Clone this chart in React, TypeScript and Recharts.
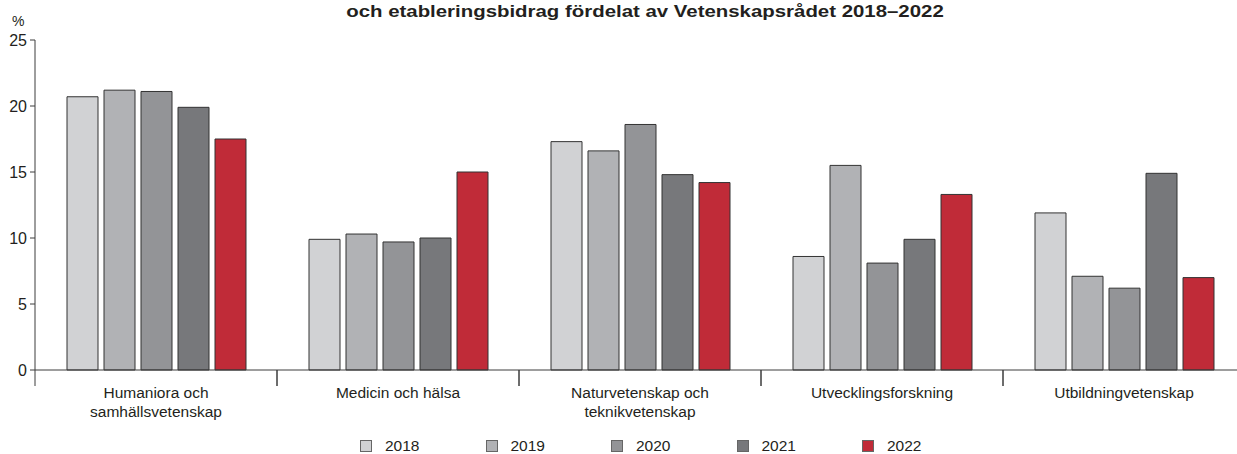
import React from "react";
import { BarChart, Bar, XAxis, YAxis, Legend } from "recharts";

const categories = [
  "Humaniora och samhällsvetenskap",
  "Medicin och hälsa",
  "Naturvetenskap och teknikvetenskap",
  "Utvecklingsforskning",
  "Utbildningvetenskap",
];
const categoryLines = [
  ["Humaniora och", "samhällsvetenskap"],
  ["Medicin och hälsa"],
  ["Naturvetenskap och", "teknikvetenskap"],
  ["Utvecklingsforskning"],
  ["Utbildningvetenskap"],
];
const years = ["2018", "2019", "2020", "2021", "2022"];
const values2018 = [20.7, 9.9, 17.3, 8.6, 11.9];
const values2019 = [21.2, 10.3, 16.6, 15.5, 7.1];
const values2020 = [21.1, 9.7, 18.6, 8.1, 6.2];
const values2021 = [19.9, 10.0, 14.8, 9.9, 14.9];
const values2022 = [17.5, 15.0, 14.2, 13.3, 7.0];
const yTicks = [0, 5, 10, 15, 20, 25];
const title = "och etableringsbidrag fördelat av Vetenskapsrådet 2018–2022";

const colors = ["#d1d2d4", "#b1b2b5", "#939497", "#77787b", "#c02b38"];
const seriesValues = [values2018, values2019, values2020, values2021, values2022];

const data = categories.map((c, i) => {
  const row: any = { category: c, idx: i };
  years.forEach((y, k) => {
    row[y] = seriesValues[k][i];
  });
  return row;
});

const FONT = "'Liberation Sans', Arial, Helvetica, sans-serif";
const TEXT = "#231f20";
const AXIS = "#3c3c3c";

const CHART_W = 1250;
const PLOT_LEFT = 35;
const PLOT_RIGHT_MARGIN = 5;
const BAND = (CHART_W - PLOT_LEFT - PLOT_RIGHT_MARGIN) / categories.length;

const CatTick = (props: any) => {
  const { x, y, payload, index } = props;
  const half = payload && payload.offset ? payload.offset : BAND / 2;
  const lines = categoryLines[index] || [String(payload.value)];
  return (
    <g>
      <line x1={x - half} x2={x - half} y1={y} y2={y + 16} stroke={AXIS} strokeWidth={1} />
      <line x1={x + half} x2={x + half} y1={y} y2={y + 16} stroke={AXIS} strokeWidth={1} />
      {lines.map((l: string, i: number) => (
        <text
          key={i}
          x={x}
          y={y + 28 + i * 19}
          textAnchor="middle"
          fontSize={15.5}
          fontFamily={FONT}
          fill={TEXT}
        >
          {l}
        </text>
      ))}
    </g>
  );
};

const LegendContent = (props: any) => {
  const payload = props.payload || [];
  return (
    <div style={{ display: "flex", paddingLeft: 360, fontFamily: FONT, fontSize: 15.5, color: TEXT, lineHeight: "14px" }}>
      {payload.map((p: any, i: number) => (
        <div key={i} style={{ width: 125.5, display: "flex", alignItems: "center" }}>
          <span
            style={{
              display: "inline-block",
              width: 10,
              height: 10,
              background: p.color,
              border: "1px solid #666",
              marginRight: 13,
            }}
          />
          <span>{p.value}</span>
        </div>
      ))}
    </div>
  );
};

export default function App() {
  return (
    <div
      style={{
        position: "absolute",
        left: 0,
        top: 0,
        width: 1237,
        height: 454,
        overflow: "hidden",
        background: "#fff",
      }}
    >
      <div
        style={{
          position: "absolute",
          left: 0,
          width: 1290,
          top: 2,
          textAlign: "center",
          fontFamily: FONT,
          fontWeight: "bold",
          fontSize: 17,
          color: TEXT,
          transform: "scaleX(1.2)",
        }}
      >
        {title}
      </div>
      <div
        style={{
          position: "absolute",
          left: 12,
          top: 13,
          fontFamily: FONT,
          fontSize: 14,
          color: TEXT,
        }}
      >
        %
      </div>
      <BarChart
        width={CHART_W}
        height={454}
        data={data}
        margin={{ top: 40, right: PLOT_RIGHT_MARGIN, left: 0, bottom: 0 }}
        barCategoryGap={32}
        barGap={6}
      >
        <XAxis
          dataKey="category"
          height={60}
          axisLine={{ stroke: AXIS, strokeWidth: 1 }}
          tickLine={false}
          tickSize={0}
          tickMargin={0}
          interval={0}
          tick={<CatTick />}
        />
        <YAxis
          width={PLOT_LEFT}
          domain={[0, 25]}
          ticks={yTicks}
          interval={0}
          axisLine={{ stroke: AXIS, strokeWidth: 1 }}
          tickLine={{ stroke: AXIS, strokeWidth: 1 }}
          tickSize={5}
          tickMargin={3}
          tick={{ fontSize: 16, fontFamily: FONT, fill: TEXT }}
        />
        <Legend
          verticalAlign="bottom"
          height={24}
          content={<LegendContent />}
          wrapperStyle={{ left: 0, width: CHART_W, bottom: -9 }}
        />
        {years.map((y, k) => (
          <Bar
            key={y}
            dataKey={y}
            name={y}
            fill={colors[k]}
            stroke="#333333"
            strokeWidth={1}
            isAnimationActive={false}
          />
        ))}
      </BarChart>
    </div>
  );
}
